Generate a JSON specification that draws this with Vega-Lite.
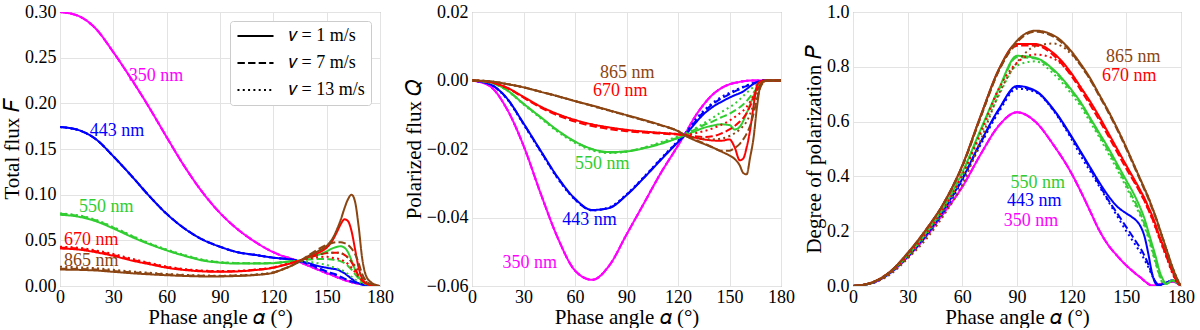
{
"$schema": "https://vega.github.io/schema/vega-lite/v6.json",
"padding": {"left": 1, "top": 2, "right": 0, "bottom": 0},
"spacing": 8,
"config": {
  "font": "Liberation Serif",
  "view": {"stroke": "#999999", "strokeWidth": 1},
  "axis": {"labelFont": "Liberation Serif", "titleFont": "Liberation Serif", "labelFontSize": 18, "titleFontSize": 21, "titleFontWeight": "normal", "labelColor": "black", "titleColor": "black", "gridColor": "#e3e3e3", "domain": false, "ticks": false, "labelPadding": 4, "titlePadding": 2, "labelFlush": false, "labelOverlap": false},
  "axisX": {"labelPadding": 2, "titlePadding": 0},
  "line": {"strokeWidth": 2, "interpolate": "monotone"},
  "text": {"fontSize": 18, "align": "center", "baseline": "middle"}
},
"datasets": {
"F": [
{"a":0,"w":"350","v1":0.3,"v7":0.3,"v13":0.3},{"a":10,"w":"350","v1":0.296,"v7":0.296,"v13":0.296},{"a":20,"w":"350","v1":0.282,"v7":0.282,"v13":0.282},{"a":30,"w":"350","v1":0.256,"v7":0.256,"v13":0.256},{"a":40,"w":"350","v1":0.227,"v7":0.227,"v13":0.227},{"a":50,"w":"350","v1":0.196,"v7":0.196,"v13":0.196},{"a":60,"w":"350","v1":0.163,"v7":0.163,"v13":0.163},{"a":70,"w":"350","v1":0.131,"v7":0.131,"v13":0.131},{"a":80,"w":"350","v1":0.103,"v7":0.103,"v13":0.103},{"a":90,"w":"350","v1":0.08,"v7":0.08,"v13":0.08},{"a":100,"w":"350","v1":0.062,"v7":0.062,"v13":0.062},{"a":110,"w":"350","v1":0.048,"v7":0.048,"v13":0.048},{"a":120,"w":"350","v1":0.037,"v7":0.037,"v13":0.037},{"a":125,"w":"350","v1":0.033,"v7":0.033,"v13":0.033},{"a":130,"w":"350","v1":0.03,"v7":0.03,"v13":0.03},{"a":135,"w":"350","v1":0.026,"v7":0.026,"v13":0.026},{"a":140,"w":"350","v1":0.022,"v7":0.022,"v13":0.022},{"a":145,"w":"350","v1":0.018,"v7":0.018,"v13":0.018},{"a":150,"w":"350","v1":0.014,"v7":0.014,"v13":0.014},{"a":153,"w":"350","v1":0.012,"v7":0.012,"v13":0.012},{"a":156,"w":"350","v1":0.0095,"v7":0.0095,"v13":0.0095},{"a":158,"w":"350","v1":0.008,"v7":0.008,"v13":0.008},{"a":160,"w":"350","v1":0.0065,"v7":0.0065,"v13":0.0065},{"a":162,"w":"350","v1":0.0053,"v7":0.0053,"v13":0.0053},{"a":164,"w":"350","v1":0.0042,"v7":0.0042,"v13":0.0042},{"a":166,"w":"350","v1":0.0033,"v7":0.0033,"v13":0.0033},{"a":168,"w":"350","v1":0.0025,"v7":0.0025,"v13":0.0025},{"a":170,"w":"350","v1":0.0018,"v7":0.0018,"v13":0.0018},{"a":172,"w":"350","v1":0.0012,"v7":0.0012,"v13":0.0012},{"a":175,"w":"350","v1":0.0006,"v7":0.0006,"v13":0.0006},{"a":178,"w":"350","v1":0.0002,"v7":0.0002,"v13":0.0002},{"a":180,"w":"350","v1":0,"v7":0,"v13":0},
{"a":0,"w":"443","v1":0.174,"v7":0.174,"v13":0.174},{"a":10,"w":"443","v1":0.171,"v7":0.171,"v13":0.171},{"a":20,"w":"443","v1":0.161,"v7":0.161,"v13":0.161},{"a":30,"w":"443","v1":0.142,"v7":0.142,"v13":0.142},{"a":40,"w":"443","v1":0.121,"v7":0.121,"v13":0.121},{"a":50,"w":"443","v1":0.099,"v7":0.099,"v13":0.099},{"a":60,"w":"443","v1":0.079,"v7":0.079,"v13":0.079},{"a":70,"w":"443","v1":0.063,"v7":0.063,"v13":0.063},{"a":80,"w":"443","v1":0.051,"v7":0.051,"v13":0.051},{"a":90,"w":"443","v1":0.043,"v7":0.043,"v13":0.043},{"a":100,"w":"443","v1":0.037,"v7":0.037,"v13":0.037},{"a":110,"w":"443","v1":0.034,"v7":0.034,"v13":0.034},{"a":120,"w":"443","v1":0.031,"v7":0.031,"v13":0.031},{"a":125,"w":"443","v1":0.03,"v7":0.03,"v13":0.03},{"a":130,"w":"443","v1":0.029,"v7":0.029,"v13":0.029},{"a":135,"w":"443","v1":0.027,"v7":0.027,"v13":0.027},{"a":140,"w":"443","v1":0.025,"v7":0.024,"v13":0.0235},{"a":145,"w":"443","v1":0.022,"v7":0.02,"v13":0.019},{"a":150,"w":"443","v1":0.02,"v7":0.016,"v13":0.015},{"a":153,"w":"443","v1":0.019,"v7":0.014,"v13":0.013},{"a":156,"w":"443","v1":0.018,"v7":0.012,"v13":0.011},{"a":158,"w":"443","v1":0.016,"v7":0.01,"v13":0.009},{"a":160,"w":"443","v1":0.014,"v7":0.008,"v13":0.0075},{"a":162,"w":"443","v1":0.011,"v7":0.0065,"v13":0.006},{"a":164,"w":"443","v1":0.008,"v7":0.005,"v13":0.0045},{"a":166,"w":"443","v1":0.005,"v7":0.004,"v13":0.0035},{"a":168,"w":"443","v1":0.003,"v7":0.003,"v13":0.0025},{"a":170,"w":"443","v1":0.002,"v7":0.0015,"v13":0.0015},{"a":172,"w":"443","v1":0.001,"v7":0.001,"v13":0.001},{"a":175,"w":"443","v1":0.0005,"v7":0.0004,"v13":0.0004},{"a":178,"w":"443","v1":0.0001,"v7":0.0001,"v13":0.0001},{"a":180,"w":"443","v1":0,"v7":0,"v13":0},
{"a":0,"w":"550","v1":0.078,"v7":0.079,"v13":0.0795},{"a":10,"w":"550","v1":0.076,"v7":0.077,"v13":0.0775},{"a":20,"w":"550","v1":0.071,"v7":0.072,"v13":0.0725},{"a":30,"w":"550","v1":0.063,"v7":0.064,"v13":0.0645},{"a":40,"w":"550","v1":0.054,"v7":0.055,"v13":0.0555},{"a":50,"w":"550","v1":0.046,"v7":0.0465,"v13":0.047},{"a":60,"w":"550","v1":0.039,"v7":0.0395,"v13":0.04},{"a":70,"w":"550","v1":0.033,"v7":0.0335,"v13":0.034},{"a":80,"w":"550","v1":0.028,"v7":0.0285,"v13":0.029},{"a":90,"w":"550","v1":0.0255,"v7":0.026,"v13":0.0262},{"a":100,"w":"550","v1":0.0245,"v7":0.025,"v13":0.0252},{"a":110,"w":"550","v1":0.0245,"v7":0.0248,"v13":0.025},{"a":120,"w":"550","v1":0.025,"v7":0.0252,"v13":0.0252},{"a":125,"w":"550","v1":0.026,"v7":0.026,"v13":0.026},{"a":130,"w":"550","v1":0.027,"v7":0.027,"v13":0.027},{"a":135,"w":"550","v1":0.028,"v7":0.028,"v13":0.027},{"a":140,"w":"550","v1":0.031,"v7":0.029,"v13":0.0265},{"a":145,"w":"550","v1":0.034,"v7":0.0295,"v13":0.025},{"a":150,"w":"550","v1":0.038,"v7":0.0295,"v13":0.023},{"a":153,"w":"550","v1":0.041,"v7":0.029,"v13":0.021},{"a":156,"w":"550","v1":0.043,"v7":0.028,"v13":0.019},{"a":158,"w":"550","v1":0.0435,"v7":0.027,"v13":0.0175},{"a":160,"w":"550","v1":0.042,"v7":0.025,"v13":0.016},{"a":162,"w":"550","v1":0.037,"v7":0.022,"v13":0.013},{"a":164,"w":"550","v1":0.028,"v7":0.018,"v13":0.01},{"a":166,"w":"550","v1":0.018,"v7":0.013,"v13":0.007},{"a":168,"w":"550","v1":0.01,"v7":0.008,"v13":0.005},{"a":170,"w":"550","v1":0.005,"v7":0.0045,"v13":0.003},{"a":172,"w":"550","v1":0.0025,"v7":0.0025,"v13":0.002},{"a":175,"w":"550","v1":0.001,"v7":0.001,"v13":0.001},{"a":178,"w":"550","v1":0.0002,"v7":0.0002,"v13":0.0002},{"a":180,"w":"550","v1":0,"v7":0,"v13":0},
{"a":0,"w":"670","v1":0.041,"v7":0.042,"v13":0.043},{"a":10,"w":"670","v1":0.04,"v7":0.041,"v13":0.042},{"a":20,"w":"670","v1":0.037,"v7":0.038,"v13":0.039},{"a":30,"w":"670","v1":0.033,"v7":0.034,"v13":0.035},{"a":40,"w":"670","v1":0.028,"v7":0.029,"v13":0.03},{"a":50,"w":"670","v1":0.024,"v7":0.0248,"v13":0.0255},{"a":60,"w":"670","v1":0.02,"v7":0.0207,"v13":0.0213},{"a":70,"w":"670","v1":0.0175,"v7":0.018,"v13":0.0185},{"a":80,"w":"670","v1":0.016,"v7":0.0165,"v13":0.017},{"a":90,"w":"670","v1":0.0155,"v7":0.016,"v13":0.0163},{"a":100,"w":"670","v1":0.016,"v7":0.0163,"v13":0.0166},{"a":110,"w":"670","v1":0.0175,"v7":0.0177,"v13":0.018},{"a":120,"w":"670","v1":0.02,"v7":0.0202,"v13":0.0204},{"a":125,"w":"670","v1":0.0225,"v7":0.0226,"v13":0.0228},{"a":130,"w":"670","v1":0.025,"v7":0.0252,"v13":0.0252},{"a":135,"w":"670","v1":0.028,"v7":0.028,"v13":0.028},{"a":140,"w":"670","v1":0.032,"v7":0.031,"v13":0.03},{"a":145,"w":"670","v1":0.036,"v7":0.034,"v13":0.0315},{"a":150,"w":"670","v1":0.042,"v7":0.036,"v13":0.032},{"a":153,"w":"670","v1":0.049,"v7":0.0365,"v13":0.031},{"a":156,"w":"670","v1":0.06,"v7":0.0365,"v13":0.03},{"a":158,"w":"670","v1":0.068,"v7":0.036,"v13":0.029},{"a":160,"w":"670","v1":0.073,"v7":0.034,"v13":0.027},{"a":162,"w":"670","v1":0.071,"v7":0.031,"v13":0.024},{"a":164,"w":"670","v1":0.06,"v7":0.026,"v13":0.02},{"a":166,"w":"670","v1":0.04,"v7":0.019,"v13":0.015},{"a":168,"w":"670","v1":0.02,"v7":0.011,"v13":0.01},{"a":170,"w":"670","v1":0.008,"v7":0.006,"v13":0.006},{"a":172,"w":"670","v1":0.003,"v7":0.003,"v13":0.003},{"a":175,"w":"670","v1":0.001,"v7":0.001,"v13":0.001},{"a":178,"w":"670","v1":0.0002,"v7":0.0002,"v13":0.0002},{"a":180,"w":"670","v1":0,"v7":0,"v13":0},
{"a":0,"w":"865","v1":0.018,"v7":0.019,"v13":0.021},{"a":10,"w":"865","v1":0.0177,"v7":0.0187,"v13":0.0205},{"a":20,"w":"865","v1":0.017,"v7":0.018,"v13":0.0195},{"a":30,"w":"865","v1":0.0155,"v7":0.0165,"v13":0.0177},{"a":40,"w":"865","v1":0.014,"v7":0.015,"v13":0.016},{"a":50,"w":"865","v1":0.0128,"v7":0.0137,"v13":0.0145},{"a":60,"w":"865","v1":0.0118,"v7":0.0126,"v13":0.0132},{"a":70,"w":"865","v1":0.011,"v7":0.0117,"v13":0.0122},{"a":80,"w":"865","v1":0.0105,"v7":0.0111,"v13":0.0115},{"a":90,"w":"865","v1":0.0105,"v7":0.011,"v13":0.0113},{"a":100,"w":"865","v1":0.011,"v7":0.0114,"v13":0.0117},{"a":110,"w":"865","v1":0.012,"v7":0.0124,"v13":0.0127},{"a":120,"w":"865","v1":0.0145,"v7":0.0148,"v13":0.015},{"a":125,"w":"865","v1":0.018,"v7":0.0182,"v13":0.018},{"a":130,"w":"865","v1":0.022,"v7":0.0222,"v13":0.022},{"a":135,"w":"865","v1":0.027,"v7":0.0275,"v13":0.027},{"a":140,"w":"865","v1":0.033,"v7":0.034,"v13":0.031},{"a":145,"w":"865","v1":0.038,"v7":0.04,"v13":0.034},{"a":150,"w":"865","v1":0.044,"v7":0.045,"v13":0.036},{"a":153,"w":"865","v1":0.051,"v7":0.047,"v13":0.0365},{"a":156,"w":"865","v1":0.063,"v7":0.048,"v13":0.0365},{"a":158,"w":"865","v1":0.073,"v7":0.048,"v13":0.036},{"a":160,"w":"865","v1":0.085,"v7":0.047,"v13":0.034},{"a":162,"w":"865","v1":0.095,"v7":0.045,"v13":0.031},{"a":164,"w":"865","v1":0.1,"v7":0.041,"v13":0.027},{"a":166,"w":"865","v1":0.092,"v7":0.035,"v13":0.022},{"a":168,"w":"865","v1":0.065,"v7":0.025,"v13":0.016},{"a":170,"w":"865","v1":0.03,"v7":0.013,"v13":0.01},{"a":172,"w":"865","v1":0.012,"v7":0.006,"v13":0.005},{"a":175,"w":"865","v1":0.004,"v7":0.002,"v13":0.002},{"a":178,"w":"865","v1":0.001,"v7":0.0005,"v13":0.0005},{"a":180,"w":"865","v1":0,"v7":0,"v13":0}
],
"Q": [
{"a":0,"w":"350","v1":0,"v7":0,"v13":0},{"a":10,"w":"350","v1":-0.0015,"v7":-0.0015,"v13":-0.0015},{"a":20,"w":"350","v1":-0.008,"v7":-0.008,"v13":-0.008},{"a":30,"w":"350","v1":-0.019,"v7":-0.019,"v13":-0.019},{"a":40,"w":"350","v1":-0.033,"v7":-0.033,"v13":-0.033},{"a":50,"w":"350","v1":-0.046,"v7":-0.046,"v13":-0.046},{"a":60,"w":"350","v1":-0.0555,"v7":-0.0555,"v13":-0.0555},{"a":70,"w":"350","v1":-0.0582,"v7":-0.0582,"v13":-0.0582},{"a":80,"w":"350","v1":-0.054,"v7":-0.054,"v13":-0.054},{"a":90,"w":"350","v1":-0.045,"v7":-0.045,"v13":-0.045},{"a":100,"w":"350","v1":-0.036,"v7":-0.036,"v13":-0.036},{"a":110,"w":"350","v1":-0.027,"v7":-0.027,"v13":-0.027},{"a":120,"w":"350","v1":-0.019,"v7":-0.019,"v13":-0.019},{"a":125,"w":"350","v1":-0.0148,"v7":-0.0148,"v13":-0.0148},{"a":130,"w":"350","v1":-0.0105,"v7":-0.0105,"v13":-0.0105},{"a":135,"w":"350","v1":-0.007,"v7":-0.007,"v13":-0.007},{"a":140,"w":"350","v1":-0.0042,"v7":-0.0042,"v13":-0.0042},{"a":145,"w":"350","v1":-0.0023,"v7":-0.0023,"v13":-0.0023},{"a":150,"w":"350","v1":-0.0011,"v7":-0.0011,"v13":-0.0011},{"a":153,"w":"350","v1":-0.0007,"v7":-0.0007,"v13":-0.0007},{"a":156,"w":"350","v1":-0.0004,"v7":-0.0004,"v13":-0.0004},{"a":158,"w":"350","v1":-0.0002,"v7":-0.0002,"v13":-0.0002},{"a":160,"w":"350","v1":-0.0001,"v7":-0.0001,"v13":-0.0001},{"a":162,"w":"350","v1":0,"v7":0,"v13":0},{"a":164,"w":"350","v1":0,"v7":0,"v13":0},{"a":166,"w":"350","v1":0,"v7":0,"v13":0},{"a":168,"w":"350","v1":0,"v7":0,"v13":0},{"a":170,"w":"350","v1":0,"v7":0,"v13":0},{"a":172,"w":"350","v1":0,"v7":0,"v13":0},{"a":175,"w":"350","v1":0,"v7":0,"v13":0},{"a":178,"w":"350","v1":0,"v7":0,"v13":0},{"a":180,"w":"350","v1":0,"v7":0,"v13":0},
{"a":0,"w":"443","v1":0,"v7":0,"v13":0},{"a":10,"w":"443","v1":-0.001,"v7":-0.001,"v13":-0.001},{"a":20,"w":"443","v1":-0.005,"v7":-0.005,"v13":-0.0052},{"a":30,"w":"443","v1":-0.0125,"v7":-0.0126,"v13":-0.0128},{"a":40,"w":"443","v1":-0.0205,"v7":-0.0206,"v13":-0.0208},{"a":50,"w":"443","v1":-0.0283,"v7":-0.0285,"v13":-0.0287},{"a":60,"w":"443","v1":-0.0345,"v7":-0.0347,"v13":-0.0348},{"a":70,"w":"443","v1":-0.0378,"v7":-0.0379,"v13":-0.0379},{"a":80,"w":"443","v1":-0.0372,"v7":-0.0372,"v13":-0.037},{"a":90,"w":"443","v1":-0.0335,"v7":-0.0334,"v13":-0.0332},{"a":100,"w":"443","v1":-0.0285,"v7":-0.0284,"v13":-0.0282},{"a":110,"w":"443","v1":-0.0232,"v7":-0.023,"v13":-0.0228},{"a":120,"w":"443","v1":-0.018,"v7":-0.0178,"v13":-0.0176},{"a":125,"w":"443","v1":-0.0155,"v7":-0.0152,"v13":-0.015},{"a":130,"w":"443","v1":-0.0125,"v7":-0.012,"v13":-0.0115},{"a":135,"w":"443","v1":-0.0098,"v7":-0.0092,"v13":-0.0088},{"a":140,"w":"443","v1":-0.0078,"v7":-0.007,"v13":-0.0066},{"a":145,"w":"443","v1":-0.0063,"v7":-0.0053,"v13":-0.0049},{"a":150,"w":"443","v1":-0.005,"v7":-0.004,"v13":-0.0036},{"a":153,"w":"443","v1":-0.0043,"v7":-0.0032,"v13":-0.0029},{"a":156,"w":"443","v1":-0.0037,"v7":-0.0025,"v13":-0.0022},{"a":158,"w":"443","v1":-0.0032,"v7":-0.002,"v13":-0.0018},{"a":160,"w":"443","v1":-0.0025,"v7":-0.0016,"v13":-0.0014},{"a":162,"w":"443","v1":-0.0017,"v7":-0.0012,"v13":-0.001},{"a":164,"w":"443","v1":-0.001,"v7":-0.0008,"v13":-0.0007},{"a":166,"w":"443","v1":-0.0005,"v7":-0.0005,"v13":-0.0004},{"a":168,"w":"443","v1":-0.0002,"v7":-0.0002,"v13":-0.0002},{"a":170,"w":"443","v1":0,"v7":0,"v13":0},{"a":172,"w":"443","v1":0,"v7":0,"v13":0},{"a":175,"w":"443","v1":0,"v7":0,"v13":0},{"a":178,"w":"443","v1":0,"v7":0,"v13":0},{"a":180,"w":"443","v1":0,"v7":0,"v13":0},
{"a":0,"w":"550","v1":0,"v7":0,"v13":0},{"a":10,"w":"550","v1":-0.0005,"v7":-0.0005,"v13":-0.0005},{"a":20,"w":"550","v1":-0.0027,"v7":-0.0027,"v13":-0.0028},{"a":30,"w":"550","v1":-0.0068,"v7":-0.0068,"v13":-0.007},{"a":40,"w":"550","v1":-0.0107,"v7":-0.0108,"v13":-0.011},{"a":50,"w":"550","v1":-0.0146,"v7":-0.0147,"v13":-0.015},{"a":60,"w":"550","v1":-0.0178,"v7":-0.0179,"v13":-0.0182},{"a":70,"w":"550","v1":-0.02,"v7":-0.0201,"v13":-0.0204},{"a":80,"w":"550","v1":-0.0209,"v7":-0.021,"v13":-0.0212},{"a":90,"w":"550","v1":-0.0207,"v7":-0.0207,"v13":-0.0208},{"a":100,"w":"550","v1":-0.0198,"v7":-0.0197,"v13":-0.0196},{"a":110,"w":"550","v1":-0.0185,"v7":-0.0183,"v13":-0.018},{"a":120,"w":"550","v1":-0.0168,"v7":-0.0166,"v13":-0.0163},{"a":125,"w":"550","v1":-0.0158,"v7":-0.0156,"v13":-0.0152},{"a":130,"w":"550","v1":-0.0148,"v7":-0.0143,"v13":-0.014},{"a":135,"w":"550","v1":-0.0138,"v7":-0.013,"v13":-0.0125},{"a":140,"w":"550","v1":-0.0132,"v7":-0.012,"v13":-0.011},{"a":145,"w":"550","v1":-0.0128,"v7":-0.0108,"v13":-0.0093},{"a":150,"w":"550","v1":-0.013,"v7":-0.0097,"v13":-0.0078},{"a":153,"w":"550","v1":-0.0143,"v7":-0.0088,"v13":-0.0068},{"a":156,"w":"550","v1":-0.0135,"v7":-0.0078,"v13":-0.0055},{"a":158,"w":"550","v1":-0.0118,"v7":-0.007,"v13":-0.0045},{"a":160,"w":"550","v1":-0.0095,"v7":-0.006,"v13":-0.0036},{"a":162,"w":"550","v1":-0.007,"v7":-0.0048,"v13":-0.0027},{"a":164,"w":"550","v1":-0.0045,"v7":-0.0035,"v13":-0.0019},{"a":166,"w":"550","v1":-0.0022,"v7":-0.0022,"v13":-0.0011},{"a":168,"w":"550","v1":-0.0008,"v7":-0.001,"v13":-0.0005},{"a":170,"w":"550","v1":-0.0002,"v7":-0.0003,"v13":-0.0001},{"a":172,"w":"550","v1":0,"v7":0,"v13":0},{"a":175,"w":"550","v1":0,"v7":0,"v13":0},{"a":178,"w":"550","v1":0,"v7":0,"v13":0},{"a":180,"w":"550","v1":0,"v7":0,"v13":0},
{"a":0,"w":"670","v1":0,"v7":0,"v13":0},{"a":10,"w":"670","v1":-0.0004,"v7":-0.0004,"v13":-0.0004},{"a":20,"w":"670","v1":-0.002,"v7":-0.0021,"v13":-0.002},{"a":30,"w":"670","v1":-0.0048,"v7":-0.005,"v13":-0.0049},{"a":40,"w":"670","v1":-0.0076,"v7":-0.0079,"v13":-0.0077},{"a":50,"w":"670","v1":-0.0098,"v7":-0.0102,"v13":-0.0099},{"a":60,"w":"670","v1":-0.0115,"v7":-0.012,"v13":-0.0116},{"a":70,"w":"670","v1":-0.0128,"v7":-0.0133,"v13":-0.0129},{"a":80,"w":"670","v1":-0.0137,"v7":-0.0142,"v13":-0.0138},{"a":90,"w":"670","v1":-0.0144,"v7":-0.0148,"v13":-0.0145},{"a":100,"w":"670","v1":-0.0149,"v7":-0.0152,"v13":-0.015},{"a":110,"w":"670","v1":-0.0153,"v7":-0.0155,"v13":-0.0153},{"a":120,"w":"670","v1":-0.0157,"v7":-0.0158,"v13":-0.0156},{"a":125,"w":"670","v1":-0.0161,"v7":-0.016,"v13":-0.0158},{"a":130,"w":"670","v1":-0.0167,"v7":-0.0163,"v13":-0.0154},{"a":135,"w":"670","v1":-0.0172,"v7":-0.0165,"v13":-0.0148},{"a":140,"w":"670","v1":-0.0175,"v7":-0.0163,"v13":-0.014},{"a":145,"w":"670","v1":-0.0176,"v7":-0.0155,"v13":-0.013},{"a":150,"w":"670","v1":-0.0172,"v7":-0.0143,"v13":-0.0117},{"a":153,"w":"670","v1":-0.0195,"v7":-0.0133,"v13":-0.0107},{"a":156,"w":"670","v1":-0.0233,"v7":-0.012,"v13":-0.0096},{"a":158,"w":"670","v1":-0.0228,"v7":-0.011,"v13":-0.0088},{"a":160,"w":"670","v1":-0.0195,"v7":-0.0095,"v13":-0.0077},{"a":162,"w":"670","v1":-0.0145,"v7":-0.0075,"v13":-0.0062},{"a":164,"w":"670","v1":-0.0075,"v7":-0.0052,"v13":-0.0045},{"a":166,"w":"670","v1":-0.0015,"v7":-0.003,"v13":-0.0027},{"a":168,"w":"670","v1":-0.0003,"v7":-0.0013,"v13":-0.0012},{"a":170,"w":"670","v1":0,"v7":-0.0003,"v13":-0.0003},{"a":172,"w":"670","v1":0,"v7":0,"v13":0},{"a":175,"w":"670","v1":0,"v7":0,"v13":0},{"a":178,"w":"670","v1":0,"v7":0,"v13":0},{"a":180,"w":"670","v1":0,"v7":0,"v13":0},
{"a":0,"w":"865","v1":0,"v7":0,"v13":0},{"a":10,"w":"865","v1":-0.0002,"v7":-0.0002,"v13":-0.0002},{"a":20,"w":"865","v1":-0.001,"v7":-0.001,"v13":-0.001},{"a":30,"w":"865","v1":-0.002,"v7":-0.002,"v13":-0.002},{"a":40,"w":"865","v1":-0.0033,"v7":-0.0033,"v13":-0.0033},{"a":50,"w":"865","v1":-0.0046,"v7":-0.0046,"v13":-0.0046},{"a":60,"w":"865","v1":-0.006,"v7":-0.006,"v13":-0.006},{"a":70,"w":"865","v1":-0.0073,"v7":-0.0074,"v13":-0.0074},{"a":80,"w":"865","v1":-0.0087,"v7":-0.0088,"v13":-0.0088},{"a":90,"w":"865","v1":-0.0101,"v7":-0.0102,"v13":-0.0102},{"a":100,"w":"865","v1":-0.0115,"v7":-0.0116,"v13":-0.0116},{"a":110,"w":"865","v1":-0.013,"v7":-0.0131,"v13":-0.0131},{"a":120,"w":"865","v1":-0.0148,"v7":-0.0148,"v13":-0.0147},{"a":125,"w":"865","v1":-0.0163,"v7":-0.0163,"v13":-0.0162},{"a":130,"w":"865","v1":-0.0175,"v7":-0.0173,"v13":-0.0166},{"a":135,"w":"865","v1":-0.0185,"v7":-0.0183,"v13":-0.017},{"a":140,"w":"865","v1":-0.0195,"v7":-0.0195,"v13":-0.0172},{"a":145,"w":"865","v1":-0.0207,"v7":-0.0205,"v13":-0.017},{"a":150,"w":"865","v1":-0.0219,"v7":-0.0205,"v13":-0.0162},{"a":153,"w":"865","v1":-0.0229,"v7":-0.0197,"v13":-0.0154},{"a":156,"w":"865","v1":-0.0248,"v7":-0.0185,"v13":-0.0143},{"a":158,"w":"865","v1":-0.027,"v7":-0.0172,"v13":-0.0133},{"a":160,"w":"865","v1":-0.0274,"v7":-0.0155,"v13":-0.012},{"a":162,"w":"865","v1":-0.0225,"v7":-0.0132,"v13":-0.0098},{"a":164,"w":"865","v1":-0.0168,"v7":-0.0098,"v13":-0.007},{"a":166,"w":"865","v1":-0.0078,"v7":-0.0055,"v13":-0.004},{"a":168,"w":"865","v1":-0.0015,"v7":-0.002,"v13":-0.0015},{"a":170,"w":"865","v1":-0.0002,"v7":-0.0005,"v13":-0.0004},{"a":172,"w":"865","v1":0,"v7":0,"v13":0},{"a":175,"w":"865","v1":0,"v7":0,"v13":0},{"a":178,"w":"865","v1":0,"v7":0,"v13":0},{"a":180,"w":"865","v1":0,"v7":0,"v13":0}
],
"P": [
{"a":0,"w":"350","v1":0,"v7":0,"v13":0},{"a":10,"w":"350","v1":0.01,"v7":0.01,"v13":0.01},{"a":20,"w":"350","v1":0.045,"v7":0.045,"v13":0.045},{"a":30,"w":"350","v1":0.105,"v7":0.105,"v13":0.105},{"a":40,"w":"350","v1":0.18,"v7":0.18,"v13":0.18},{"a":50,"w":"350","v1":0.268,"v7":0.268,"v13":0.268},{"a":60,"w":"350","v1":0.362,"v7":0.362,"v13":0.362},{"a":70,"w":"350","v1":0.48,"v7":0.48,"v13":0.48},{"a":80,"w":"350","v1":0.585,"v7":0.585,"v13":0.585},{"a":90,"w":"350","v1":0.634,"v7":0.634,"v13":0.634},{"a":100,"w":"350","v1":0.6,"v7":0.6,"v13":0.6},{"a":110,"w":"350","v1":0.515,"v7":0.515,"v13":0.515},{"a":120,"w":"350","v1":0.41,"v7":0.41,"v13":0.41},{"a":125,"w":"350","v1":0.345,"v7":0.345,"v13":0.345},{"a":130,"w":"350","v1":0.275,"v7":0.275,"v13":0.275},{"a":135,"w":"350","v1":0.205,"v7":0.205,"v13":0.205},{"a":140,"w":"350","v1":0.15,"v7":0.15,"v13":0.15},{"a":145,"w":"350","v1":0.11,"v7":0.11,"v13":0.11},{"a":150,"w":"350","v1":0.075,"v7":0.075,"v13":0.075},{"a":153,"w":"350","v1":0.057,"v7":0.057,"v13":0.057},{"a":156,"w":"350","v1":0.04,"v7":0.04,"v13":0.04},{"a":158,"w":"350","v1":0.03,"v7":0.03,"v13":0.03},{"a":160,"w":"350","v1":0.018,"v7":0.018,"v13":0.018},{"a":162,"w":"350","v1":0.008,"v7":0.008,"v13":0.008},{"a":164,"w":"350","v1":0.001,"v7":0.001,"v13":0.001},{"a":166,"w":"350","v1":0.003,"v7":0.003,"v13":0.003},{"a":168,"w":"350","v1":0.006,"v7":0.006,"v13":0.006},{"a":170,"w":"350","v1":0.01,"v7":0.01,"v13":0.01},{"a":172,"w":"350","v1":0.012,"v7":0.012,"v13":0.012},{"a":175,"w":"350","v1":0.015,"v7":0.015,"v13":0.015},{"a":178,"w":"350","v1":0.01,"v7":0.01,"v13":0.01},{"a":180,"w":"350","v1":0,"v7":0,"v13":0},
{"a":0,"w":"443","v1":0,"v7":0,"v13":0},{"a":10,"w":"443","v1":0.01,"v7":0.01,"v13":0.009},{"a":20,"w":"443","v1":0.046,"v7":0.046,"v13":0.044},{"a":30,"w":"443","v1":0.108,"v7":0.107,"v13":0.104},{"a":40,"w":"443","v1":0.185,"v7":0.184,"v13":0.18},{"a":50,"w":"443","v1":0.28,"v7":0.278,"v13":0.272},{"a":60,"w":"443","v1":0.392,"v7":0.39,"v13":0.385},{"a":70,"w":"443","v1":0.525,"v7":0.522,"v13":0.515},{"a":80,"w":"443","v1":0.645,"v7":0.642,"v13":0.635},{"a":90,"w":"443","v1":0.73,"v7":0.727,"v13":0.72},{"a":100,"w":"443","v1":0.713,"v7":0.711,"v13":0.708},{"a":110,"w":"443","v1":0.645,"v7":0.643,"v13":0.64},{"a":120,"w":"443","v1":0.545,"v7":0.542,"v13":0.535},{"a":125,"w":"443","v1":0.49,"v7":0.487,"v13":0.475},{"a":130,"w":"443","v1":0.435,"v7":0.43,"v13":0.42},{"a":135,"w":"443","v1":0.38,"v7":0.372,"v13":0.365},{"a":140,"w":"443","v1":0.33,"v7":0.315,"v13":0.31},{"a":145,"w":"443","v1":0.29,"v7":0.265,"v13":0.255},{"a":150,"w":"443","v1":0.265,"v7":0.215,"v13":0.2},{"a":153,"w":"443","v1":0.252,"v7":0.185,"v13":0.17},{"a":156,"w":"443","v1":0.235,"v7":0.155,"v13":0.14},{"a":158,"w":"443","v1":0.215,"v7":0.135,"v13":0.12},{"a":160,"w":"443","v1":0.18,"v7":0.11,"v13":0.095},{"a":162,"w":"443","v1":0.12,"v7":0.08,"v13":0.07},{"a":164,"w":"443","v1":0.05,"v7":0.045,"v13":0.04},{"a":166,"w":"443","v1":0.01,"v7":0.015,"v13":0.015},{"a":168,"w":"443","v1":0,"v7":0.005,"v13":0.005},{"a":170,"w":"443","v1":0.008,"v7":0.008,"v13":0.008},{"a":172,"w":"443","v1":0.012,"v7":0.012,"v13":0.012},{"a":175,"w":"443","v1":0.02,"v7":0.02,"v13":0.02},{"a":178,"w":"443","v1":0.012,"v7":0.012,"v13":0.012},{"a":180,"w":"443","v1":0,"v7":0,"v13":0},
{"a":0,"w":"550","v1":0,"v7":0,"v13":0},{"a":10,"w":"550","v1":0.011,"v7":0.011,"v13":0.01},{"a":20,"w":"550","v1":0.048,"v7":0.048,"v13":0.045},{"a":30,"w":"550","v1":0.112,"v7":0.111,"v13":0.108},{"a":40,"w":"550","v1":0.193,"v7":0.191,"v13":0.186},{"a":50,"w":"550","v1":0.29,"v7":0.288,"v13":0.28},{"a":60,"w":"550","v1":0.415,"v7":0.412,"v13":0.4},{"a":70,"w":"550","v1":0.57,"v7":0.566,"v13":0.55},{"a":80,"w":"550","v1":0.72,"v7":0.715,"v13":0.695},{"a":90,"w":"550","v1":0.84,"v7":0.835,"v13":0.805},{"a":100,"w":"550","v1":0.833,"v7":0.83,"v13":0.82},{"a":110,"w":"550","v1":0.79,"v7":0.786,"v13":0.775},{"a":120,"w":"550","v1":0.715,"v7":0.71,"v13":0.7},{"a":125,"w":"550","v1":0.67,"v7":0.665,"v13":0.655},{"a":130,"w":"550","v1":0.615,"v7":0.61,"v13":0.6},{"a":135,"w":"550","v1":0.56,"v7":0.553,"v13":0.545},{"a":140,"w":"550","v1":0.505,"v7":0.495,"v13":0.485},{"a":145,"w":"550","v1":0.445,"v7":0.435,"v13":0.425},{"a":150,"w":"550","v1":0.385,"v7":0.37,"v13":0.36},{"a":153,"w":"550","v1":0.35,"v7":0.33,"v13":0.32},{"a":156,"w":"550","v1":0.31,"v7":0.29,"v13":0.28},{"a":158,"w":"550","v1":0.28,"v7":0.26,"v13":0.25},{"a":160,"w":"550","v1":0.245,"v7":0.225,"v13":0.215},{"a":162,"w":"550","v1":0.2,"v7":0.185,"v13":0.175},{"a":164,"w":"550","v1":0.155,"v7":0.14,"v13":0.13},{"a":166,"w":"550","v1":0.11,"v7":0.09,"v13":0.085},{"a":168,"w":"550","v1":0.06,"v7":0.045,"v13":0.04},{"a":170,"w":"550","v1":0.025,"v7":0.015,"v13":0.012},{"a":172,"w":"550","v1":0.008,"v7":0.008,"v13":0.008},{"a":175,"w":"550","v1":0.02,"v7":0.02,"v13":0.02},{"a":178,"w":"550","v1":0.012,"v7":0.012,"v13":0.012},{"a":180,"w":"550","v1":0,"v7":0,"v13":0},
{"a":0,"w":"670","v1":0,"v7":0,"v13":0},{"a":10,"w":"670","v1":0.012,"v7":0.012,"v13":0.011},{"a":20,"w":"670","v1":0.05,"v7":0.05,"v13":0.047},{"a":30,"w":"670","v1":0.12,"v7":0.119,"v13":0.11},{"a":40,"w":"670","v1":0.205,"v7":0.204,"v13":0.19},{"a":50,"w":"670","v1":0.305,"v7":0.303,"v13":0.285},{"a":60,"w":"670","v1":0.44,"v7":0.437,"v13":0.405},{"a":70,"w":"670","v1":0.62,"v7":0.616,"v13":0.56},{"a":80,"w":"670","v1":0.79,"v7":0.786,"v13":0.72},{"a":90,"w":"670","v1":0.883,"v7":0.877,"v13":0.815},{"a":100,"w":"670","v1":0.883,"v7":0.878,"v13":0.845},{"a":110,"w":"670","v1":0.85,"v7":0.842,"v13":0.83},{"a":120,"w":"670","v1":0.775,"v7":0.765,"v13":0.77},{"a":125,"w":"670","v1":0.725,"v7":0.715,"v13":0.725},{"a":130,"w":"670","v1":0.675,"v7":0.663,"v13":0.67},{"a":135,"w":"670","v1":0.62,"v7":0.607,"v13":0.615},{"a":140,"w":"670","v1":0.56,"v7":0.548,"v13":0.555},{"a":145,"w":"670","v1":0.5,"v7":0.488,"v13":0.495},{"a":150,"w":"670","v1":0.44,"v7":0.428,"v13":0.435},{"a":153,"w":"670","v1":0.405,"v7":0.394,"v13":0.4},{"a":156,"w":"670","v1":0.37,"v7":0.36,"v13":0.362},{"a":158,"w":"670","v1":0.345,"v7":0.335,"v13":0.336},{"a":160,"w":"670","v1":0.32,"v7":0.31,"v13":0.31},{"a":162,"w":"670","v1":0.29,"v7":0.28,"v13":0.28},{"a":164,"w":"670","v1":0.26,"v7":0.25,"v13":0.248},{"a":166,"w":"670","v1":0.225,"v7":0.215,"v13":0.213},{"a":168,"w":"670","v1":0.185,"v7":0.178,"v13":0.175},{"a":170,"w":"670","v1":0.15,"v7":0.143,"v13":0.14},{"a":172,"w":"670","v1":0.115,"v7":0.108,"v13":0.105},{"a":175,"w":"670","v1":0.06,"v7":0.055,"v13":0.05},{"a":178,"w":"670","v1":0.015,"v7":0.013,"v13":0.012},{"a":180,"w":"670","v1":0,"v7":0,"v13":0},
{"a":0,"w":"865","v1":0,"v7":0,"v13":0},{"a":10,"w":"865","v1":0.012,"v7":0.012,"v13":0.01},{"a":20,"w":"865","v1":0.05,"v7":0.05,"v13":0.04},{"a":30,"w":"865","v1":0.12,"v7":0.119,"v13":0.1},{"a":40,"w":"865","v1":0.205,"v7":0.204,"v13":0.17},{"a":50,"w":"865","v1":0.305,"v7":0.303,"v13":0.26},{"a":60,"w":"865","v1":0.44,"v7":0.437,"v13":0.37},{"a":70,"w":"865","v1":0.62,"v7":0.615,"v13":0.53},{"a":80,"w":"865","v1":0.79,"v7":0.785,"v13":0.7},{"a":90,"w":"865","v1":0.895,"v7":0.89,"v13":0.815},{"a":100,"w":"865","v1":0.932,"v7":0.928,"v13":0.875},{"a":110,"w":"865","v1":0.915,"v7":0.91,"v13":0.885},{"a":120,"w":"865","v1":0.855,"v7":0.85,"v13":0.845},{"a":125,"w":"865","v1":0.81,"v7":0.805,"v13":0.805},{"a":130,"w":"865","v1":0.76,"v7":0.755,"v13":0.755},{"a":135,"w":"865","v1":0.7,"v7":0.695,"v13":0.7},{"a":140,"w":"865","v1":0.64,"v7":0.635,"v13":0.64},{"a":145,"w":"865","v1":0.575,"v7":0.57,"v13":0.575},{"a":150,"w":"865","v1":0.505,"v7":0.5,"v13":0.505},{"a":153,"w":"865","v1":0.46,"v7":0.455,"v13":0.46},{"a":156,"w":"865","v1":0.415,"v7":0.41,"v13":0.415},{"a":158,"w":"865","v1":0.385,"v7":0.38,"v13":0.385},{"a":160,"w":"865","v1":0.355,"v7":0.35,"v13":0.355},{"a":162,"w":"865","v1":0.325,"v7":0.32,"v13":0.325},{"a":164,"w":"865","v1":0.29,"v7":0.285,"v13":0.29},{"a":166,"w":"865","v1":0.255,"v7":0.25,"v13":0.255},{"a":168,"w":"865","v1":0.215,"v7":0.21,"v13":0.215},{"a":170,"w":"865","v1":0.175,"v7":0.17,"v13":0.175},{"a":172,"w":"865","v1":0.135,"v7":0.13,"v13":0.135},{"a":175,"w":"865","v1":0.075,"v7":0.07,"v13":0.075},{"a":178,"w":"865","v1":0.025,"v7":0.022,"v13":0.025},{"a":180,"w":"865","v1":0,"v7":0,"v13":0}
],
"LF": [{"a":54,"val":0.23,"t":"350 nm","w":"350"},{"a":32,"val":0.17,"t":"443 nm","w":"443"},{"a":26,"val":0.087,"t":"550 nm","w":"550"},{"a":17.6,"val":0.05,"t":"670 nm","w":"670"},{"a":17.6,"val":0.0274,"t":"865 nm","w":"865"}],
"LQ": [{"a":90.5,"val":0.0023,"t":"865 nm","w":"865"},{"a":86.4,"val":-0.003,"t":"670 nm","w":"670"},{"a":75.9,"val":-0.0243,"t":"550 nm","w":"550"},{"a":68.4,"val":-0.0408,"t":"443 nm","w":"443"},{"a":33.7,"val":-0.0534,"t":"350 nm","w":"350"}],
"LP": [{"a":153.8,"val":0.836,"t":"865 nm","w":"865"},{"a":151.6,"val":0.767,"t":"670 nm","w":"670"},{"a":101.4,"val":0.376,"t":"550 nm","w":"550"},{"a":99.5,"val":0.309,"t":"443 nm","w":"443"},{"a":97.7,"val":0.236,"t":"350 nm","w":"350"}]
},
"resolve": {"scale": {"strokeDash": "independent", "color": "independent", "y": "independent"}, "legend": {"strokeDash": "independent"}},
"hconcat": [
{
 "width": 320, "height": 274,
 "layer": [
  {"data": {"name": "F"},
   "transform": [{"fold": ["v1", "v7", "v13"], "as": ["wind", "val"]}],
   "mark": {"type": "line", "clip": true},
   "encoding": {
     "x": {"field": "a", "type": "quantitative", "scale": {"domain": [0, 180], "nice": false}, "axis": {"values": [0, 30, 60, 90, 120, 150, 180], "title": "Phase angle 𝛼 (°)"}},
     "y": {"field": "val", "type": "quantitative", "scale": {"domain": [0, 0.3], "nice": false, "zero": false}, "axis": {"values": [0, 0.05, 0.1, 0.15, 0.2, 0.25, 0.3], "format": ".2f", "title": "Total flux 𝐹"}},
     "color": {"field": "w", "type": "nominal", "scale": {"domain": ["350", "443", "550", "670", "865"], "range": ["#ff00ff", "#0000ff", "#32cd32", "#ff0000", "#8b4513"]}, "legend": null},
     "strokeDash": {"field": "wind", "type": "nominal", "scale": {"domain": ["v1", "v7", "v13"], "range": [[1, 0], [7.4, 3.2], [2, 3.3]]},
       "legend": {"title": null, "orient": "top-right", "offset": 9, "labelExpr": "datum.label == 'v1' ? '𝑣 = 1 m/s' : datum.label == 'v7' ? '𝑣 = 7 m/s' : '𝑣 = 13 m/s'", "symbolType": "stroke", "symbolSize": 1300, "symbolStrokeWidth": 2, "symbolStrokeColor": "black", "labelFontSize": 18, "labelFont": "Liberation Serif", "labelColor": "black", "strokeColor": "#cccccc", "fillColor": "white", "padding": 6, "cornerRadius": 3, "clipHeight": 18, "rowPadding": 9, "labelOffset": 14}}
   }},
  {"data": {"name": "LF"},
   "mark": {"type": "text"},
   "encoding": {
     "x": {"field": "a", "type": "quantitative"},
     "y": {"field": "val", "type": "quantitative"},
     "text": {"field": "t"},
     "color": {"field": "w", "type": "nominal", "legend": null}
   }}
 ]
},
{
 "width": 309, "height": 274,
 "layer": [
  {"data": {"name": "Q"},
   "transform": [{"fold": ["v1", "v7", "v13"], "as": ["wind", "val"]}],
   "mark": {"type": "line", "clip": true},
   "encoding": {
     "x": {"field": "a", "type": "quantitative", "scale": {"domain": [0, 180], "nice": false}, "axis": {"values": [0, 30, 60, 90, 120, 150, 180], "title": "Phase angle 𝛼 (°)"}},
     "y": {"field": "val", "type": "quantitative", "scale": {"domain": [-0.06, 0.02], "nice": false, "zero": false}, "axis": {"values": [-0.06, -0.04, -0.02, 0, 0.02], "format": ".2f", "title": "Polarized flux 𝑄"}},
     "color": {"field": "w", "type": "nominal", "scale": {"domain": ["350", "443", "550", "670", "865"], "range": ["#ff00ff", "#0000ff", "#32cd32", "#ff0000", "#8b4513"]}, "legend": null},
     "strokeDash": {"field": "wind", "type": "nominal", "scale": {"domain": ["v1", "v7", "v13"], "range": [[1, 0], [7.4, 3.2], [2, 3.3]]}, "legend": null}
   }},
  {"data": {"name": "LQ"},
   "mark": {"type": "text"},
   "encoding": {
     "x": {"field": "a", "type": "quantitative"},
     "y": {"field": "val", "type": "quantitative"},
     "text": {"field": "t"},
     "color": {"field": "w", "type": "nominal", "legend": null}
   }}
 ]
},
{
 "width": 328, "height": 274,
 "layer": [
  {"data": {"name": "P"},
   "transform": [{"fold": ["v1", "v7", "v13"], "as": ["wind", "val"]}],
   "mark": {"type": "line", "clip": true},
   "encoding": {
     "x": {"field": "a", "type": "quantitative", "scale": {"domain": [0, 180], "nice": false}, "axis": {"values": [0, 30, 60, 90, 120, 150, 180], "title": "Phase angle 𝛼 (°)"}},
     "y": {"field": "val", "type": "quantitative", "scale": {"domain": [0, 1], "nice": false, "zero": false}, "axis": {"values": [0, 0.2, 0.4, 0.6, 0.8, 1.0], "format": ".1f", "title": "Degree of polarization 𝑃"}},
     "color": {"field": "w", "type": "nominal", "scale": {"domain": ["350", "443", "550", "670", "865"], "range": ["#ff00ff", "#0000ff", "#32cd32", "#ff0000", "#8b4513"]}, "legend": null},
     "strokeDash": {"field": "wind", "type": "nominal", "scale": {"domain": ["v1", "v7", "v13"], "range": [[1, 0], [7.4, 3.2], [2, 3.3]]}, "legend": null}
   }},
  {"data": {"name": "LP"},
   "mark": {"type": "text"},
   "encoding": {
     "x": {"field": "a", "type": "quantitative"},
     "y": {"field": "val", "type": "quantitative"},
     "text": {"field": "t"},
     "color": {"field": "w", "type": "nominal", "legend": null}
   }}
 ]
}
]
}
